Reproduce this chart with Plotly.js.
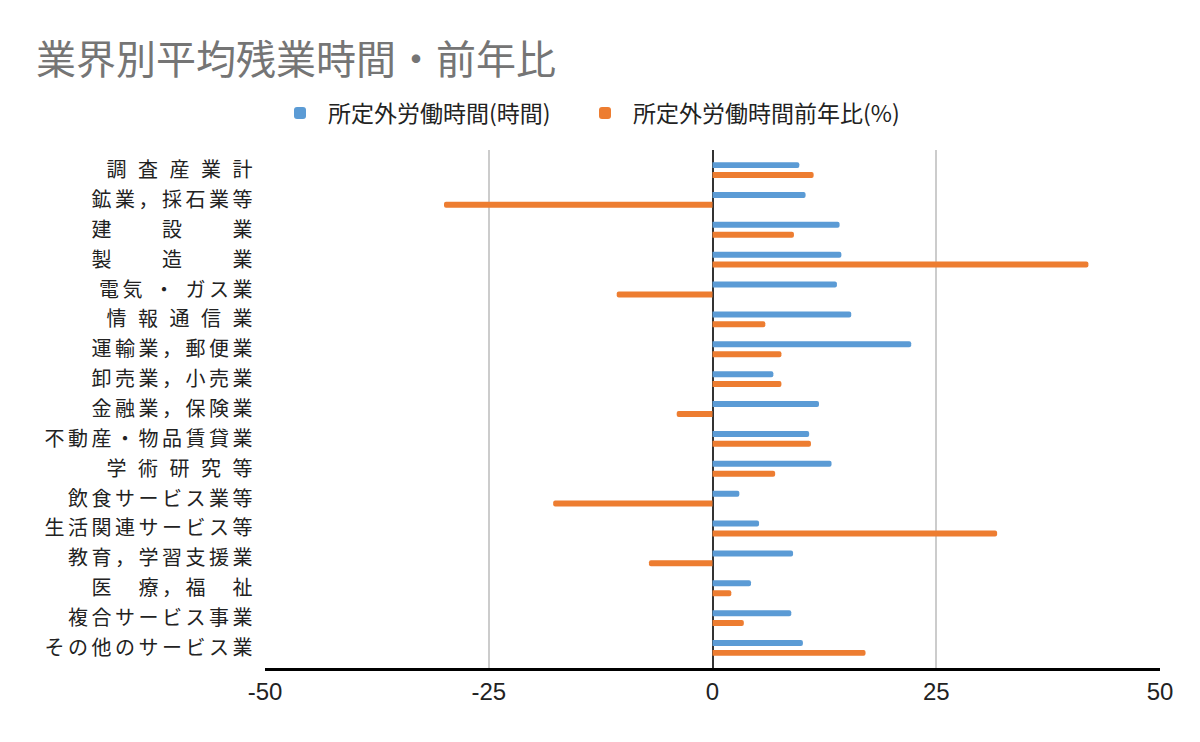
<!DOCTYPE html>
<html>
<head>
<meta charset="utf-8">
<script src="https://cdn.plot.ly/plotly-3.0.1.min.js"></script>
<style>
html,body{margin:0;padding:0;background:#fff;}
#chart{width:1200px;height:742px;}
#chart .ytick text{letter-spacing:3.5px;}
</style>
</head>
<body>
<div id="chart"></div>
<script>
const categories = [
  "調 査 産 業 計",
  "鉱業，採石業等",
  "建　　設　　業",
  "製　　造　　業",
  "電気 ・ ガス業",
  "情 報 通 信 業",
  "運輸業，郵便業",
  "卸売業，小売業",
  "金融業，保険業",
  "不動産・物品賃貸業",
  "学 術 研 究 等",
  "飲食サービス業等",
  "生活関連サービス等",
  "教育，学習支援業",
  "医　療，福　祉",
  "複合サービス事業",
  "その他のサービス業"
];
const overtimeHours = [9.7, 10.4, 14.2, 14.4, 13.9, 15.5, 22.2, 6.8, 11.9, 10.8, 13.3, 3.0, 5.2, 9.0, 4.3, 8.8, 10.1];
const overtimeYoY = [11.3, -30.0, 9.1, 42.0, -10.7, 5.9, 7.7, 7.7, -4.0, 11.0, 7.0, -17.8, 31.8, -7.1, 2.1, 3.5, 17.1];
const seriesNames = ["所定外労働時間(時間)", "所定外労働時間前年比(%)"];
const xTicks = [-50, -25, 0, 25, 50];

const font = '"Noto Sans CJK JP", "Noto Sans", sans-serif';

const traces = [
  {type: 'bar', orientation: 'h', name: seriesNames[0], y: categories, x: overtimeHours, legend: 'legend',
   marker: {color: '#5B9BD5', cornerradius: 3}},
  {type: 'bar', orientation: 'h', name: seriesNames[1], y: categories, x: overtimeYoY, legend: 'legend2',
   marker: {color: '#ED7D31', cornerradius: 3}}
];

const legendBase = {orientation: 'h', xanchor: 'left', xref: 'container', y: 1 - 113/742, yref: 'container', yanchor: 'middle',
                    font: {family: font, size: 23, color: '#222'}, itemwidth: 46};

const n = categories.length;
const layout = {
  width: 1200, height: 742,
  margin: {l: 265, r: 40, t: 150, b: 74},
  paper_bgcolor: '#fff', plot_bgcolor: '#fff',
  font: {family: font, color: '#222'},
  title: {text: '業界別平均残業時間・前年比', font: {family: font, size: 40, color: '#757575'},
          x: 36/1200, xanchor: 'left', xref: 'container', y: 1 - 60/742, yanchor: 'middle', yref: 'container'},
  showlegend: true,
  legend: Object.assign({}, legendBase, {x: 272/1200}),
  legend2: Object.assign({}, legendBase, {x: 577/1200}),
  barmode: 'group', bargap: 0.34, bargroupgap: 0.4,
  xaxis: {range: [-50, 50], tickvals: xTicks, ticktext: xTicks.map(String), showgrid: true, gridcolor: '#cccccc', gridwidth: 2,
          zeroline: true, zerolinecolor: '#333', zerolinewidth: 2, showline: true, linecolor: '#000', linewidth: 3,
          ticks: '', tickfont: {family: 'Liberation Sans, Arial, sans-serif', size: 24, color: '#222'}, fixedrange: true},
  yaxis: {type: 'category', autorange: false, range: [n - 1 + 0.67, -0.67], showgrid: false, zeroline: false, showline: false,
          ticks: '', ticklabelstandoff: 8, tickfont: {family: font, size: 20, color: '#222'}, fixedrange: true}
};

Plotly.newPlot('chart', traces, layout, {displayModeBar: false, staticPlot: true});
</script>
</body>
</html>
